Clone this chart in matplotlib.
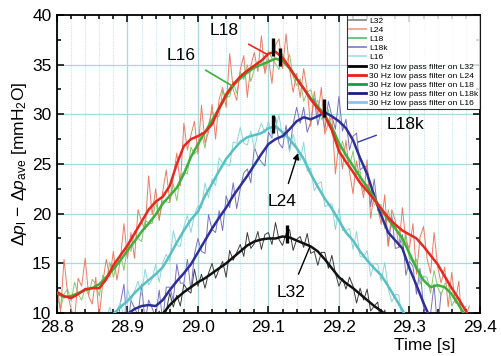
import numpy as np
import matplotlib
matplotlib.use('Agg')
import matplotlib.pyplot as plt
from matplotlib.lines import Line2D
from matplotlib.ticker import MultipleLocator

plt.rcParams['font.family'] = ['Liberation Sans', 'DejaVu Sans']
plt.rcParams['mathtext.fontset'] = 'custom'
plt.rcParams['mathtext.rm'] = 'Liberation Sans'
plt.rcParams['mathtext.it'] = 'Liberation Sans:italic'

# raw pressure difference traces, sampled every 5 ms
RAW_DT = 0.005
raw_t0 = {'L32': 28.940, 'L24': 28.870, 'L18': 28.800, 'L18k': 28.880, 'L16': 28.800}

raw_L32 = [9.0, 10.2, 9.0, 10.2, 12.0, 10.6, 11.8, 10.7, 12.9, 12.3,
           12.0, 14.4, 12.7, 13.9, 12.5, 14.0, 15.0, 13.5, 14.4, 15.2,
           13.6, 16.3, 15.3, 16.1, 16.9, 15.7, 18.1, 16.5, 17.0, 18.2,
           16.4, 17.9, 18.1, 16.9, 19.1, 17.4, 16.8, 18.0, 18.4, 16.3,
           17.4, 17.7, 16.6, 18.0, 16.0, 16.2, 14.8, 16.1, 16.1, 14.5,
           15.8, 14.0, 12.7, 13.5, 12.4, 13.6, 12.7, 11.0, 12.5, 11.3,
           12.4, 10.2, 10.7, 11.1, 8.7, 10.3, 9.0]

raw_L24 = [9.5, 10.6, 9.1, 10.2, 11.1, 9.4, 12.4, 11.2, 12.2, 13.2,
           11.8, 14.4, 12.8, 13.4, 14.9, 13.1, 15.1, 15.9, 15.2, 18.3,
           16.8, 16.7, 18.7, 19.8, 18.1, 19.9, 20.8, 20.6, 23.1, 21.6,
           23.5, 22.8, 25.6, 25.1, 25.0, 24.8, 27.2, 27.1, 28.7, 27.1,
           26.9, 28.3, 26.5, 28.1, 29.1, 28.1, 29.3, 27.7, 28.6, 29.9,
           27.6, 28.2, 26.2, 28.0, 26.6, 25.3, 27.2, 24.3, 24.6, 22.3,
           23.0, 23.2, 20.7, 20.9, 21.0, 18.4, 20.5, 18.3, 18.3, 18.5,
           16.4, 18.2, 15.7, 15.6, 16.3, 13.7, 15.0, 14.9, 13.2, 15.1,
           12.4, 11.1, 11.9, 11.8, 9.0, 9.7, 9.6]

raw_L18 = [13.0, 10.1, 15.4, 12.0, 10.4, 9.4, 13.5, 12.7, 15.5, 11.7,
           10.9, 13.6, 9.6, 13.1, 15.4, 13.6, 16.2, 13.3, 15.4, 19.0,
           15.5, 18.1, 15.5, 20.4, 19.2, 18.4, 23.8, 19.9, 22.5, 19.3,
           22.2, 24.4, 21.2, 23.7, 26.1, 22.8, 29.1, 26.4, 27.9, 29.3,
           26.0, 30.9, 27.1, 28.2, 31.0, 27.5, 31.5, 32.7, 30.7, 36.1,
           32.5, 31.4, 34.5, 35.9, 31.7, 34.9, 36.2, 34.3, 37.9, 34.1,
           35.6, 33.1, 37.0, 37.6, 34.6, 38.1, 34.5, 32.2, 34.1, 31.7,
           34.6, 32.4, 28.8, 32.3, 29.9, 32.7, 28.0, 29.1, 29.8, 24.0,
           27.2, 24.5, 27.4, 24.2, 22.0, 25.3, 23.3, 21.6, 25.4, 19.5,
           22.1, 20.6, 18.9, 21.9, 16.7, 20.4, 19.3, 16.6, 20.6, 17.2,
           16.5, 19.0, 13.9, 17.6, 18.7, 15.5, 14.0, 18.1, 14.7, 13.0,
           14.6, 10.6, 14.1, 11.0, 13.2, 8.3, 9.8, 10.7]

raw_L18k = [9.7, 8.3, 11.0, 12.9, 8.3, 11.3, 10.5, 9.8, 12.9, 9.1,
            11.3, 10.5, 9.5, 12.3, 9.2, 12.6, 12.6, 11.3, 14.9, 13.0,
            13.0, 15.4, 12.3, 15.9, 17.5, 16.2, 16.0, 19.9, 18.4, 18.1,
            20.3, 18.3, 21.8, 20.6, 23.1, 20.5, 22.5, 24.1, 24.5, 23.1,
            26.7, 25.7, 25.2, 24.8, 28.2, 27.6, 29.7, 27.1, 26.6, 28.9,
            26.4, 29.0, 30.7, 29.1, 30.7, 28.2, 29.2, 31.6, 28.9, 30.5,
            28.4, 31.3, 29.8, 28.5, 31.8, 28.3, 29.5, 26.4, 27.8, 28.1,
            24.4, 24.7, 24.8, 20.7, 23.5, 20.3, 20.1, 20.1, 16.8, 19.8,
            16.5, 16.6, 17.9, 13.8, 15.2, 14.7, 11.9, 14.5, 10.6, 8.8,
            9.9, 12.9, 8.2, 12.1]

raw_L16 = [11.8, 10.4, 11.9, 12.4, 11.2, 13.1, 11.9, 11.3, 12.5, 11.8,
           13.4, 12.9, 11.7, 13.8, 13.3, 15.1, 13.6, 14.9, 15.9, 14.3,
           16.7, 16.2, 18.2, 17.5, 17.2, 19.3, 19.1, 19.0, 21.3, 19.4,
           21.3, 21.2, 21.1, 23.0, 21.3, 23.8, 24.2, 24.0, 26.7, 26.0,
           26.4, 28.2, 26.6, 29.0, 30.3, 29.7, 29.8, 32.4, 31.7, 31.8,
           33.3, 32.1, 34.3, 33.5, 35.0, 33.3, 34.5, 35.3, 35.4, 34.4,
           36.4, 35.6, 35.1, 34.5, 36.1, 35.2, 36.0, 33.8, 32.9, 33.6,
           31.3, 32.2, 32.5, 31.0, 31.4, 29.5, 29.7, 30.5, 28.1, 28.2,
           26.0, 27.3, 25.9, 24.7, 26.3, 23.9, 24.3, 22.2, 22.9, 23.1,
           20.9, 20.9, 20.9, 18.5, 20.4, 18.6, 18.7, 18.7, 16.7, 18.0,
           15.5, 15.1, 15.4, 12.9, 13.7, 13.6, 12.0, 14.3, 12.6, 11.8,
           12.9, 13.1, 10.7, 11.4, 11.4, 9.8, 10.7]

# 30 Hz low pass filtered traces, every 10 ms
FILT_DT = 0.01
filt_t0 = {'L32': 28.94, 'L24': 28.87, 'L18': 28.80, 'L18k': 28.89, 'L16': 28.80}

filt_L32 = [9.2, 9.9, 10.8, 11.5, 12.1, 12.6, 13.1, 13.5, 14.0, 14.5,
            15.0, 15.6, 16.2, 16.8, 17.2, 17.4, 17.5, 17.5, 17.7, 17.6,
            17.3, 17.0, 16.7, 16.2, 15.4, 14.5, 13.6, 13.0, 12.5, 11.9,
            11.3, 10.7, 10.2, 9.6]

filt_L24 = [9.2, 9.9, 10.6, 11.2, 12.0, 12.7, 13.3, 13.9, 14.6, 15.8,
            17.1, 18.3, 19.4, 20.2, 21.8, 23.0, 24.3, 25.5, 26.4, 27.2,
            27.7, 27.9, 28.1, 28.6, 28.8, 28.2, 27.5, 26.6, 25.5, 24.0,
            22.7, 21.5, 20.5, 19.3, 18.1, 17.3, 16.2, 15.3, 14.5, 13.8,
            12.7, 11.5, 10.3, 9.0]

filt_L18 = [12.1, 11.7, 11.5, 11.9, 12.4, 12.5, 12.5, 13.4, 14.8, 15.8,
            16.8, 18.0, 19.2, 20.4, 21.2, 21.7, 22.8, 25.0, 26.8, 27.5,
            27.8, 28.2, 29.0, 30.6, 32.0, 33.0, 33.8, 34.4, 34.9, 35.4,
            36.1, 36.3, 35.7, 34.7, 33.6, 32.6, 31.5, 30.6, 29.8, 28.4,
            26.3, 25.2, 24.2, 23.1, 22.3, 21.4, 20.5, 19.6, 18.9, 18.3,
            17.9, 17.5, 16.7, 15.8, 14.9, 13.7, 12.5, 11.4, 10.2, 9.0]

filt_L18k = [9.4, 9.9, 10.4, 10.7, 10.8, 10.7, 11.3, 12.3, 13.2, 14.0,
             14.9, 16.1, 17.3, 18.5, 19.6, 20.6, 21.8, 22.8, 23.8, 24.9,
             26.0, 27.0, 27.5, 27.8, 28.5, 29.3, 29.7, 29.5, 29.8, 30.2,
             29.8, 29.3, 28.6, 27.4, 25.6, 24.0, 21.8, 19.8, 18.1, 17.3,
             16.5, 14.5, 12.8, 11.0, 9.4]

filt_L16 = [12.0, 11.6, 11.7, 12.0, 12.3, 12.5, 12.9, 13.6, 14.4, 15.3,
            16.3, 17.2, 18.2, 19.0, 19.9, 21.0, 21.8, 22.6, 24.0, 25.7,
            27.0, 28.2, 29.4, 30.6, 31.8, 32.9, 33.6, 34.2, 34.7, 35.0,
            35.3, 35.6, 35.4, 34.6, 33.6, 32.6, 31.6, 30.8, 29.9, 28.7,
            27.1, 25.9, 24.8, 23.7, 22.7, 21.6, 20.4, 19.4, 18.5, 17.5,
            16.0, 14.5, 13.3, 12.6, 12.8, 12.6, 11.9, 10.8, 9.6]

# peak positions marked with short black bars
peak_t = [29.106, 29.116, 29.106, 29.179, 29.126]
peak_v = [36.8, 35.75, 29.0, 30.6, 18.0]

raw_colors = {'L32': '#3c3c3c', 'L24': '#8fd6d8', 'L18': '#eb7c62',
              'L18k': '#7a70c4', 'L16': '#86c86a'}
filt_colors = {'L32': '#111111', 'L24': '#56c0c4', 'L18': '#e82820',
               'L18k': '#2c2f98', 'L16': '#3cb03c'}

raw = {'L32': raw_L32, 'L24': raw_L24, 'L18': raw_L18, 'L18k': raw_L18k, 'L16': raw_L16}
filt = {'L32': filt_L32, 'L24': filt_L24, 'L18': filt_L18, 'L18k': filt_L18k, 'L16': filt_L16}

fig = plt.figure(figsize=(5.02, 3.56), dpi=100)
ax = fig.add_axes([0.1135, 0.1208, 0.8425, 0.8372])

# grid: fine dotted every 20 ms, solid every 100 ms and 5 mmH2O
for x in np.arange(28.8, 29.401, 0.02):
    ax.axvline(x, color='#c4e8ea', lw=0.8, ls=(0, (1, 1)), zorder=0)
for x in np.arange(28.8, 29.401, 0.1):
    ax.axvline(x, color='#a6dade', lw=0.9, zorder=0)
for y in range(15, 40, 5):
    ax.axhline(y, color='#a6dade', lw=0.9, zorder=0)

for key in ['L32', 'L18k', 'L24', 'L16', 'L18']:
    vals = np.array(raw[key])
    t = raw_t0[key] + RAW_DT * np.arange(len(vals))
    ax.plot(t, vals, color=raw_colors[key], lw=0.7, zorder=2)

for key in ['L24', 'L32', 'L18k', 'L16', 'L18']:
    vals = np.array(filt[key])
    t = filt_t0[key] + FILT_DT * np.arange(len(vals))
    ax.plot(t, vals, color=filt_colors[key], lw=1.8, zorder=3)

ax.plot(peak_t, peak_v, ls='none', marker='|', ms=13, mew=2.4, color='k', zorder=4)

# curve labels
ann_font = 12.5
ax.annotate('L18', xy=(29.099, 36.0), xytext=(29.037, 38.4), fontsize=ann_font,
            ha='center', va='center',
            arrowprops=dict(arrowstyle='-', color='#e82820', lw=1.2, shrinkA=6, shrinkB=0))
ax.annotate('L16', xy=(29.05, 32.8), xytext=(28.976, 35.9), fontsize=ann_font,
            ha='center', va='center',
            arrowprops=dict(arrowstyle='-', color='#3cb03c', lw=1.2, shrinkA=6, shrinkB=0))
ax.annotate('L24', xy=(29.142, 26.1), xytext=(29.12, 21.2), fontsize=ann_font,
            ha='center', va='center',
            arrowprops=dict(arrowstyle='-|>', color='k', lw=1.0, shrinkA=6, shrinkB=0,
                            mutation_scale=9))
ax.annotate('L18k', xy=(29.227, 27.2), xytext=(29.295, 29.0), fontsize=ann_font,
            ha='center', va='center',
            arrowprops=dict(arrowstyle='-', color='#3a3aa8', lw=1.0, shrinkA=6, shrinkB=0))
ax.annotate('L32', xy=(29.159, 16.7), xytext=(29.132, 12.1), fontsize=ann_font,
            ha='center', va='center',
            arrowprops=dict(arrowstyle='-', color='k', lw=1.0, shrinkA=6, shrinkB=0))

ax.set_xlim(28.8, 29.4)
ax.set_ylim(10, 40)
ax.xaxis.set_major_locator(MultipleLocator(0.1))
ax.xaxis.set_minor_locator(MultipleLocator(0.02))
ax.yaxis.set_major_locator(MultipleLocator(5))
ax.yaxis.set_minor_locator(MultipleLocator(2.5))
ax.set_xticks(np.arange(28.8, 29.401, 0.1))
ax.set_xticklabels(['28.8', '28.9', '29.0', '29.1', '29.2', '29.3', '29.4'])
ax.tick_params(which='both', direction='in', top=True, right=True, labelsize=12.5)
ax.tick_params(axis='x', pad=5)
ax.tick_params(axis='y', pad=4)
ax.tick_params(which='major', length=5, width=1.1)
ax.tick_params(which='minor', length=3, width=1.1)
for s in ax.spines.values():
    s.set_linewidth(1.3)

ax.set_ylabel(r'$\Delta p_{\mathrm{l}}\,-\,\Delta p_{\mathrm{ave}}$ [mmH$_2$O]', fontsize=12.5,
              labelpad=2)
fig.text(0.845, 0.03, 'Time [s]', fontsize=12.5, ha='center', va='center')

legend_labels = ['L32', 'L24', 'L18', 'L18k', 'L16',
                 '30 Hz low pass filter on L32', '30 Hz low pass filter on L24',
                 '30 Hz low pass filter on L18', '30 Hz low pass filter on L18k',
                 '30 Hz low pass filter on L16']
legend_colors = ['#8a8a8a', '#f2a08c', '#5cc084', '#8884c8', '#a8dcf2',
                 '#000000', '#ee1c1c', '#1a9a3c', '#1c1c84', '#84c8ec']
legend_widths = [1.3] * 5 + [2.0] * 5
handles = [Line2D([], [], color=c, lw=w) for c, w in zip(legend_colors, legend_widths)]
leg = ax.legend(handles, legend_labels, loc='upper right', bbox_to_anchor=(1.0, 1.0),
                fontsize=6.1, frameon=True, fancybox=False, borderaxespad=0,
                labelspacing=0.15, handlelength=2.1, handletextpad=0.3, borderpad=0.2)
leg.get_frame().set_edgecolor('k')
leg.get_frame().set_linewidth(0.8)
leg.set_zorder(6)

fig.savefig('out.png', dpi=100)
